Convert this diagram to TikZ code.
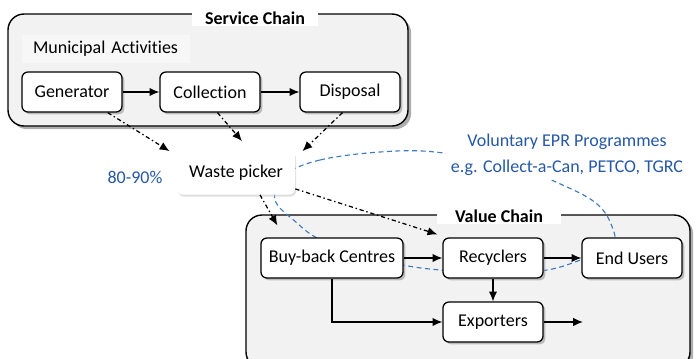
\documentclass[tikz,border=0pt]{standalone}
\usepackage{fontspec}
\setmainfont{Carlito}[Ligatures=NoCommon]
\usepackage{xcolor}
\usetikzlibrary{shadows,arrows.meta}
\definecolor{eprtext}{RGB}{38,88,168}
\definecolor{eprline}{RGB}{62,122,190}

\begin{document}
\begin{tikzpicture}[x=0.025cm,y=-0.025cm,font=\fontsize{12.8}{15}\selectfont,>={Latex[length=7pt,width=6pt]}]
      \tikzstyle{chain frame}=[draw,line width=1pt,rounded corners=0.4cm,fill=gray!10,drop shadow={shadow xshift=0.08cm,shadow yshift=-0.08cm,fill=black!45,opacity=0.7}]
      \tikzstyle{frame title}=[fill=white,font=\fontsize{12.8}{15}\selectfont\bfseries,inner ysep=1pt]
      \tikzstyle{step box}=[draw,fill=white,line width=0.9pt,rounded corners=0.15cm,minimum width=2.5cm,minimum height=1cm,drop shadow={shadow xshift=0.06cm,shadow yshift=-0.06cm,fill=black!40,opacity=0.6}]
      \tikzstyle{flow}=[->,line width=0.9pt]
      \tikzstyle{pick flow}=[->,line width=0.9pt,dash pattern=on 3pt off 2pt on 1pt off 2pt]
      \tikzstyle{epr loop}=[draw=eprline,line width=0.8pt,dash pattern=on 3.5pt off 2.5pt]
      \useasboundingbox (0,0) rectangle (697,358);
      \clip (0,0) rectangle (697,358);
      \filldraw[chain frame] (8,14) rectangle (408,126);
      \node(service)[frame title,minimum width=3.15cm] at (255,18) {Service Chain};
      \node(muni)[fill=white!94!gray,anchor=west,text width=3.65cm,inner xsep=0.27cm,minimum height=0.68cm] at (22,49) {Municipal Activities};
      \filldraw[chain frame] (246,215) rectangle (690,368);
      \node(value)[frame title,minimum width=3.12cm] at (499,216) {Value Chain};
      \draw[epr loop] plot[smooth cycle,tension=0.6] coordinates {(285,175) (320,160) (380,152) (435,152) (510,165) (567,187) (597,204) (611,224) (613,245) (583,259) (547,270) (495,274) (440,270) (403,265) (350,252) (317,238) (297,223) (275,200)};
      \node(picker)[fill=white,rounded corners=0.15cm,minimum width=2.95cm,minimum height=1.08cm,drop shadow={shadow xshift=0.03cm,shadow yshift=-0.05cm,fill=black!25,opacity=0.5}] at (236,173) {Waste picker};
      \node(share)[text=eprtext] at (135,177) {80-90\%};
      \node(epr)[text=eprtext,fill=white,align=center,font=\fontsize{12.8}{18.4}\selectfont] at (567,155) {Voluntary EPR Programmes\\e.g. Collect-a-Can, PETCO, TGRC};
      \node(gen)[step box] at (72,92) {Generator};
      \node(col)[step box] at (210,92) {Collection};
      \node(disp)[step box] at (350,92) {Disposal};
      \node(buy)[step box,minimum width=3.55cm] at (332,258) {Buy-back Centres};
      \node(rec)[step box] at (493,258) {Recyclers};
      \node(users)[step box] at (632,258) {End Users};
      \node(exp)[step box] at (493,322) {Exporters};
      \coordinate(out) at (583,322);
      \draw[flow] (gen) -- (col);
      \draw[flow] (col) -- (disp);
      \draw[flow] (buy) -- (rec);
      \draw[flow] (rec) -- (users);
      \draw[flow] (rec) -- (exp);
      \draw[flow] (buy.south) |- (exp.west);
      \draw[flow] (exp) -- (out);
      \draw[pick flow] (gen.-30) -- ([xshift=-0.18cm]picker.north west);
      \draw[pick flow] (col.-70) -- ([shift={(6,-10)}]picker.north);
      \draw[pick flow] (disp.-110) -- ([xshift=0.18cm]picker.north east);
      \draw[pick flow] ([shift={(24,0)}]picker.south) -- ([shift={(17,-12)}]buy.north west);
      \draw[pick flow] (picker.-15) -- ([shift={(-5,-3)}]rec.north west);
\end{tikzpicture}
\end{document}
